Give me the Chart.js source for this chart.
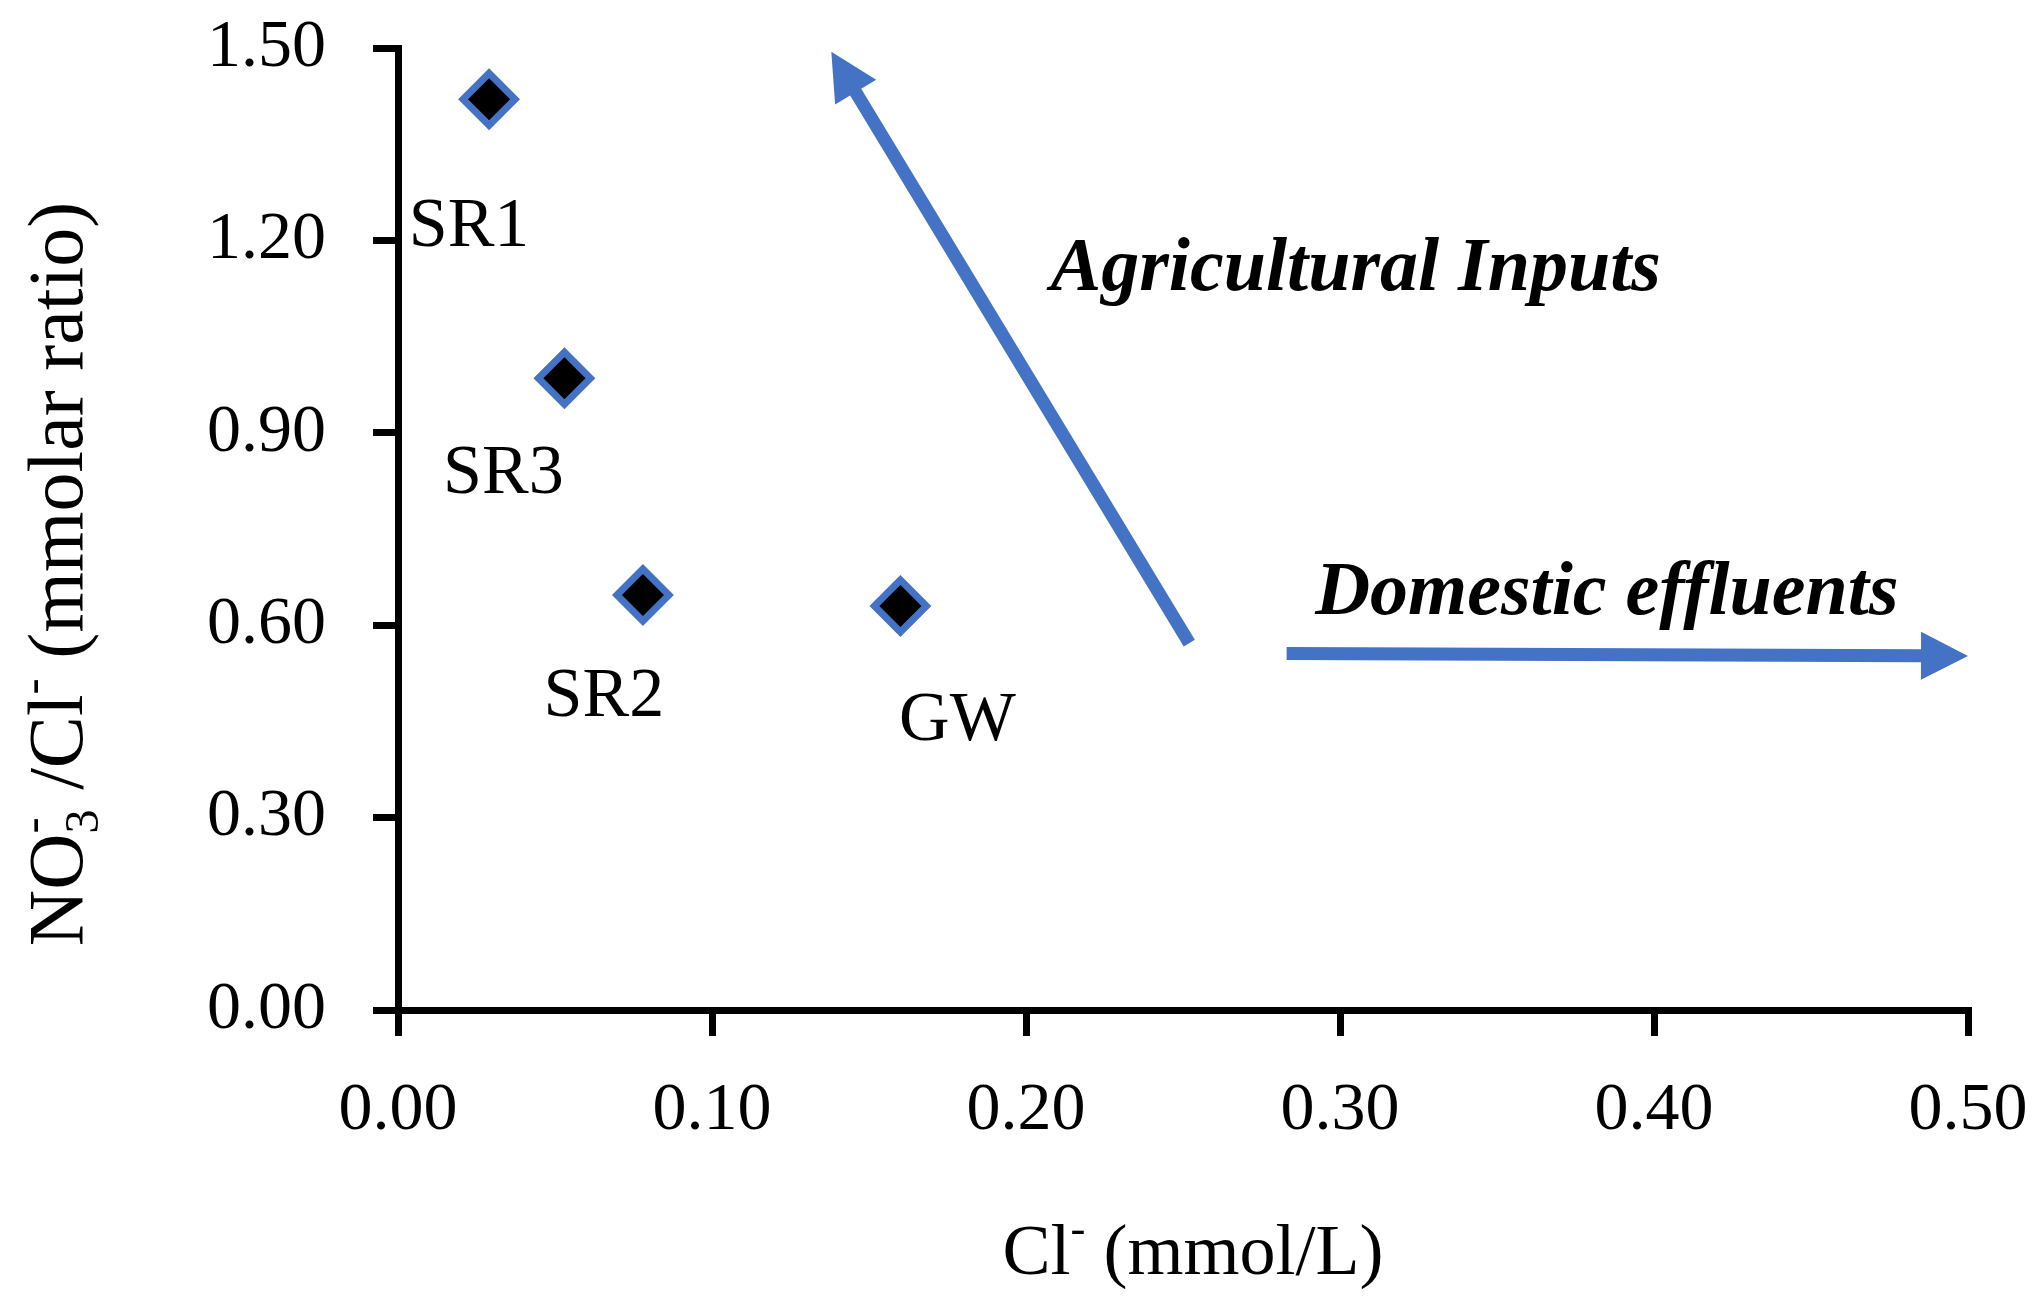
<!DOCTYPE html>
<html>
<head>
<meta charset="utf-8">
<title>NO3/Cl vs Cl</title>
<script src="https://cdn.jsdelivr.net/npm/chart.js@4.4.0/dist/chart.umd.min.js"></script>
<style>
  html, body { margin: 0; padding: 0; background: #fff; }
  #wrap { width: 2038px; height: 1307px; }
</style>
</head>
<body>
<div id="wrap"><canvas id="myChart"></canvas></div>
<script>
const sites = ["SR1", "SR3", "SR2", "GW"];
const chloride = [0.029, 0.053, 0.078, 0.160];
const nitrateRatio = [1.42, 0.985, 0.647, 0.630];

const xTickValues = [0, 0.1, 0.2, 0.3, 0.4, 0.5];
const yTickValues = [0, 0.3, 0.6, 0.9, 1.2, 1.5];

// trend arrows, in data units (Cl-, ratio)
const arrowNames = ["Agricultural Inputs", "Domestic effluents"];
const arrowFromX = [0.252, 0.283];
const arrowFromY = [0.572, 0.556];
const arrowToX = [0.138, 0.500];
const arrowToY = [1.494, 0.552];

const BLUE = "#4472C4";
const FONT = "'Liberation Serif', 'Times New Roman', serif";

// text with sub/superscripts, parts drawn left to right from (x, y) baseline
function drawRich(ctx, parts, size, x, y) {
  let cx = x, hold = 0;
  parts.forEach(p => {
    const s = p.shift ? size * 0.62 : size;
    ctx.font = s + "px " + FONT;
    let dy = 0;
    if (p.shift === "sup") dy = -size * 0.43;
    if (p.shift === "sub") dy = size * 0.2;
    ctx.fillText(p.t, cx, y + dy);
    const w = ctx.measureText(p.t).width;
    if (p.stack) hold = Math.max(hold, w);
    else { cx += Math.max(hold, w); hold = 0; }
  });
  return cx - x;
}

function richWidth(ctx, parts, size) {
  let w = 0, hold = 0;
  parts.forEach(p => {
    ctx.font = (p.shift ? size * 0.62 : size) + "px " + FONT;
    const pw = ctx.measureText(p.t).width;
    if (p.stack) hold = Math.max(hold, pw);
    else { w += Math.max(hold, pw); hold = 0; }
  });
  return w;
}

const yTitle = [
  { t: "NO" }, { t: "3", shift: "sub", stack: true }, { t: "-", shift: "sup" },
  { t: " /Cl" }, { t: "-", shift: "sup" }, { t: " (mmolar ratio)" }
];
const xTitle = [{ t: "Cl" }, { t: "-", shift: "sup" }, { t: " (mmol/L)" }];

const extrasPlugin = {
  id: "extras",
  afterDraw(chart, args, opts) {
    const ctx = chart.ctx;
    const xs = chart.scales.x, ys = chart.scales.y;
    ctx.save();
    ctx.fillStyle = "#000";
    ctx.textBaseline = "alphabetic";
    ctx.textAlign = "left";

    // axis titles
    let w = richWidth(ctx, xTitle, opts.titleSize);
    drawRich(ctx, xTitle, opts.titleSize, opts.xTitleCenter - w / 2, opts.xTitleBaseline);
    ctx.save();
    ctx.translate(opts.yTitleBaseline, opts.yTitleCenter);
    ctx.rotate(-Math.PI / 2);
    w = richWidth(ctx, yTitle, opts.yTitleSize);
    drawRich(ctx, yTitle, opts.yTitleSize, -w / 2, 0);
    ctx.restore();

    // point labels
    const meta = chart.getDatasetMeta(0);
    ctx.font = opts.labelSize + "px " + FONT;
    ctx.textAlign = "center";
    ctx.textBaseline = "middle";
    meta.data.forEach((pt, i) => {
      const off = opts.labelOffsets[i];
      ctx.fillText(sites[i], pt.x + off[0], pt.y + off[1]);
    });

    // arrows
    ctx.strokeStyle = BLUE;
    ctx.fillStyle = BLUE;
    ctx.lineWidth = opts.arrowWidth;
    ctx.lineCap = "butt";
    arrowNames.forEach((name, i) => {
      const x1 = xs.getPixelForValue(arrowFromX[i]);
      const y1 = ys.getPixelForValue(arrowFromY[i]);
      const x2 = xs.getPixelForValue(arrowToX[i]);
      const y2 = ys.getPixelForValue(arrowToY[i]);
      const len = Math.hypot(x2 - x1, y2 - y1);
      const ux = (x2 - x1) / len, uy = (y2 - y1) / len;
      const bx = x2 - ux * opts.headLength, by = y2 - uy * opts.headLength;
      ctx.beginPath();
      ctx.moveTo(x1, y1);
      ctx.lineTo(bx + ux * 2, by + uy * 2);
      ctx.stroke();
      ctx.beginPath();
      ctx.moveTo(x2, y2);
      ctx.lineTo(bx - uy * opts.headHalf, by + ux * opts.headHalf);
      ctx.lineTo(bx + uy * opts.headHalf, by - ux * opts.headHalf);
      ctx.closePath();
      ctx.fill();

      // arrow caption
      ctx.fillStyle = "#000";
      ctx.font = "italic bold " + opts.captionSize + "px " + FONT;
      ctx.textBaseline = "alphabetic";
      ctx.fillText(name, xs.getPixelForValue(opts.captionX[i]), ys.getPixelForValue(opts.captionY[i]));
      ctx.fillStyle = BLUE;
    });
    ctx.restore();
  }
};

const tickFont = { family: FONT, size: 68 };

const config = {
  type: "scatter",
  data: {
    datasets: [{
      label: "samples",
      data: sites.map((s, i) => ({ x: chloride[i], y: nitrateRatio[i] })),
      pointStyle: "rectRot",
      pointRadius: 26,
      pointHoverRadius: 26,
      backgroundColor: "#000",
      borderColor: BLUE,
      borderWidth: 7,
      hoverBorderWidth: 7
    }]
  },
  options: {
    responsive: true,
    maintainAspectRatio: false,
    animation: false,
    events: [],
    layout: { padding: { top: 48, right: 70, left: 0, bottom: 0 } },
    plugins: {
      legend: { display: false },
      tooltip: { enabled: false },
      extras: {
        titleSize: 72,
        yTitleSize: 78,
        xTitleCenter: 1193,
        xTitleBaseline: 1274,
        yTitleCenter: 574,
        yTitleBaseline: 82,
        labelSize: 70,
        labelOffsets: [[-20, 128], [-61, 96], [-39, 103], [57, 116]],
        arrowWidth: 13,
        headLength: 47,
        headHalf: 24,
        captionSize: 76,
        captionX: [0.305, 0.385],
        captionY: [1.123, 0.618]
      }
    },
    scales: {
      x: {
        type: "linear",
        min: 0,
        max: 0.5,
        afterBuildTicks: s => { s.ticks = xTickValues.map(v => ({ value: v })); },
        afterFit: s => { s.height = 297; s.paddingLeft = 0; s.paddingRight = 0; },
        grid: { drawOnChartArea: false, tickLength: 26, lineWidth: 7, color: "#000" },
        border: { display: true, color: "#000", width: 7 },
        ticks: {
          padding: 34,
          color: "#000",
          font: tickFont,
          maxRotation: 0,
          autoSkip: false,
          callback: v => Number(v).toFixed(2)
        }
      },
      y: {
        type: "linear",
        min: 0,
        max: 1.5,
        afterBuildTicks: s => { s.ticks = yTickValues.map(v => ({ value: v })); },
        afterFit: s => { s.width = 398; s.paddingTop = 0; s.paddingBottom = 0; },
        grid: { drawOnChartArea: false, tickLength: 25, lineWidth: 7, color: "#000" },
        border: { display: true, color: "#000", width: 7 },
        ticks: {
          padding: 47,
          color: "#000",
          font: tickFont,
          autoSkip: false,
          callback: v => Number(v).toFixed(2)
        }
      }
    }
  },
  plugins: [extrasPlugin]
};

const myChart = new Chart(document.getElementById("myChart"), config);
</script>
</body>
</html>
